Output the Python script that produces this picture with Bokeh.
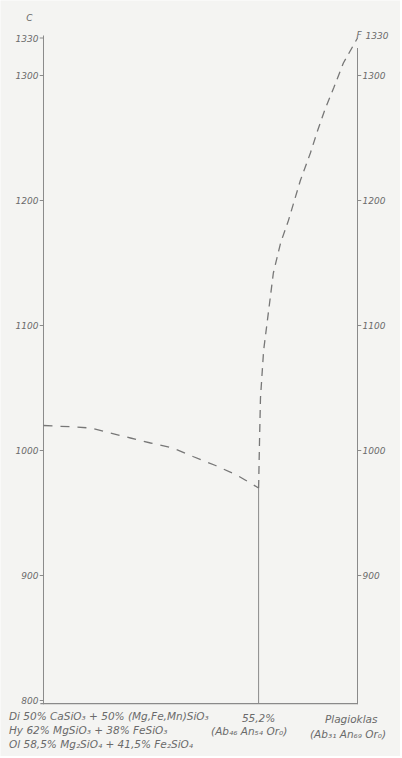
from bokeh.plotting import figure
from bokeh.models import Range1d
from bokeh.core.properties import value
from bokeh.embed import file_html
from bokeh.resources import INLINE

# ---- data ----
# composition axis: 0 = pyroxene/olivine end, 100 = plagioclase end
eutectic_x = 68.5
eutectic_t = 970

liq_left_x = [0, 8.6, 15.0, 21.3, 27.7, 34.1, 41.1, 47.8, 54.8, 61.8, 68.5]
liq_left_t = [1020, 1019, 1018, 1014, 1010, 1006, 1002, 995, 988, 980, 970]

liq_right_x = [68.5, 68.8, 69.1, 70.1, 71.7, 73.2, 75.5, 78.0, 81.8, 85.0, 87.3, 89.8, 92.4, 95.5, 100]
liq_right_t = [970, 1008, 1042, 1080, 1112, 1142, 1166, 1184, 1216, 1238, 1256, 1274, 1290, 1310, 1330]

left_ticks = [1330, 1300, 1200, 1100, 1000, 900, 800]
left_tick_labels = ["1330", "1300", "1200", "1100", "1000", "900", "800"]
right_ticks = [1300, 1200, 1100, 1000, 900]
right_tick_labels = ["1300", "1200", "1100", "1000", "900"]
top_right_label = "1330"

bottom_left_lines = [
    "Di 50% CaSiO\u2083 + 50% (Mg,Fe,Mn)SiO\u2083",
    "Hy 62% MgSiO\u2083 + 38% FeSiO\u2083",
    "Ol 58,5% Mg\u2082SiO\u2084 + 41,5% Fe\u2082SiO\u2084",
]
mid_lines = ["55,2%", "(Ab\u2084\u2086 An\u2085\u2084 Or\u2080)"]
right_lines = ["Plagioklas", "(Ab\u2083\u2081 An\u2086\u2089 Or\u2080)"]

# ---- figure ----
BG = "#f4f4f2"
LINE = "#8a8a8a"
TXT = "#6a6a6a"

p = figure(width=400, height=756, x_range=Range1d(-13.69, 113.69),
           y_range=Range1d(755.2, 1360), output_backend="svg",
           toolbar_location=None, min_border=0)
p.xaxis.visible = False
p.yaxis.visible = False
p.xgrid.visible = False
p.ygrid.visible = False
p.outline_line_color = None
p.background_fill_color = BG
p.border_fill_color = BG

# frame lines
p.segment(x0=[0], y0=[1332], x1=[0], y1=[797], line_color=LINE, line_width=1)
p.segment(x0=[100], y0=[1322], x1=[100], y1=[797], line_color=LINE, line_width=1)
p.segment(x0=[-1], y0=[797.5], x1=[100], y1=[797.5], line_color=LINE, line_width=1.2)
p.segment(x0=[eutectic_x], y0=[797.5], x1=[eutectic_x], y1=[eutectic_t],
          line_color=LINE, line_width=1)

# ticks
p.segment(x0=[-1.2] * len(left_ticks), y0=left_ticks, x1=[0] * len(left_ticks),
          y1=left_ticks, line_color=LINE, line_width=1)
p.segment(x0=[100] * len(right_ticks), y0=right_ticks, x1=[101.2] * len(right_ticks),
          y1=right_ticks, line_color=LINE, line_width=1)

# liquidus curves
p.line(liq_left_x, liq_left_t, line_color="#777777", line_width=1.3, line_dash="9 8")
p.line(liq_right_x, liq_right_t, line_color="#777777", line_width=1.3, line_dash="8 6")

tick_style = dict(text_color=TXT, text_font=value("DejaVu Sans"), text_font_size="9px",
                  text_font_style="italic", text_baseline="middle")
lab_style = dict(text_color=TXT, text_font=value("DejaVu Sans"), text_font_size="10.5px",
                 text_font_style="italic", text_baseline="middle")

p.text(x=[0] * len(left_ticks), y=left_ticks, text=left_tick_labels,
       text_align="right", x_offset=-5, **tick_style)
p.text(x=[100] * len(right_ticks), y=right_ticks, text=right_tick_labels,
       text_align="left", x_offset=5, **tick_style)
p.text(x=[100], y=[1330], text=["F"], text_align="left", x_offset=-1, y_offset=-3, **tick_style)
p.text(x=[100], y=[1330], text=[top_right_label], text_align="left", x_offset=8,
       y_offset=-3, **tick_style)
p.text(x=[0], y=[1346], text=["C"], text_align="center", x_offset=-14, **tick_style)

# bottom labels
p.text(x=[-11.0] * 3, y=[788, 776.5, 765.3], text=bottom_left_lines,
       text_align="left", **lab_style)
p.text(x=[eutectic_x, eutectic_x - 3], y=[786, 775.5], text=mid_lines,
       text_align="center", **lab_style)
p.text(x=[98, 97], y=[785, 773], text=right_lines, text_align="center", **lab_style)

open("out.html", "w").write(file_html(p, INLINE))
